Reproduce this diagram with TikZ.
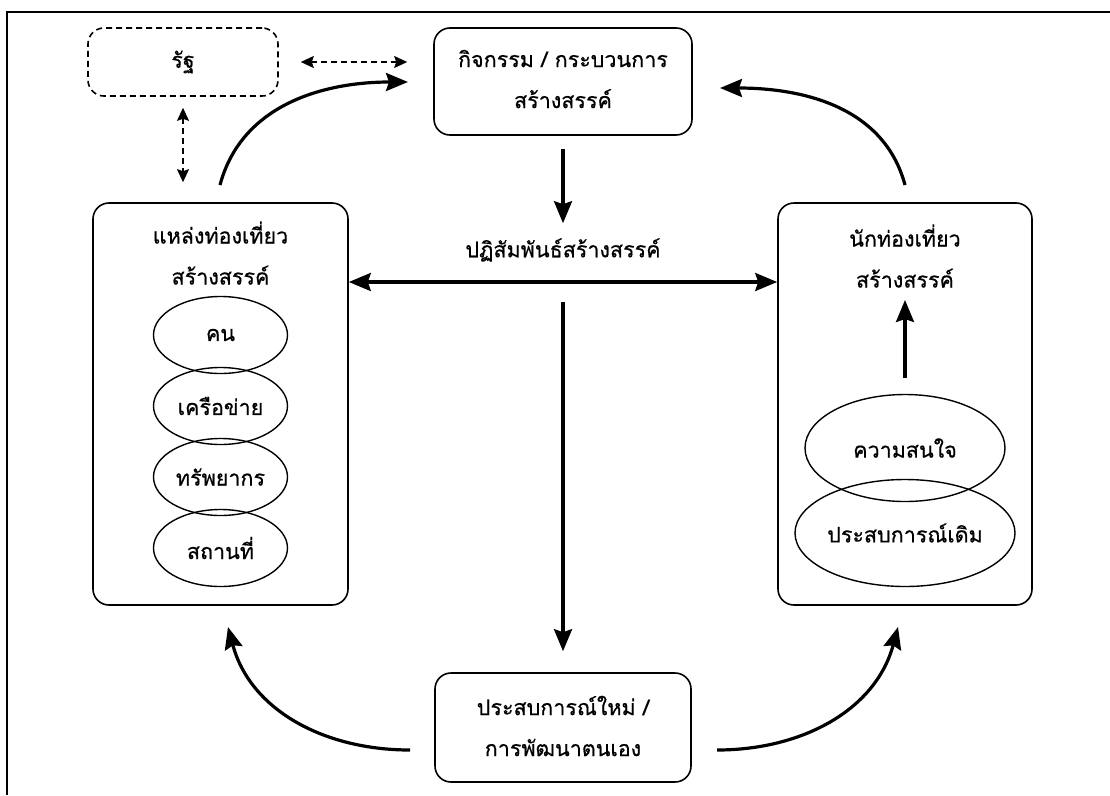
\documentclass[tikz,border=0pt]{standalone}
\usepackage{fontspec}
\setmainfont[Script=Thai,FakeBold=0.6]{Loma}
\usetikzlibrary{arrows.meta,shapes.geometric}

\begin{document}
\begin{tikzpicture}[x=1pt,y=-1pt,
  font=\fontsize{21.5}{41}\selectfont,
  box/.style={draw,line width=1.6pt,rounded corners=16pt,inner sep=0pt},
  govbox/.style={box,dashed,dash pattern=on 6pt off 4pt},
  oval/.style={draw,ellipse,line width=1.4pt,inner sep=0pt},
  label/.style={align=center,inner sep=0pt},
  flow/.style={line width=3.2pt,-{Stealth[length=22pt,width=18pt,inset=3pt]}},
  twoway/.style={line width=3.2pt,{Stealth[length=22pt,width=18pt,inset=3pt]}-{Stealth[length=22pt,width=18pt,inset=3pt]}},
  link/.style={line width=1.6pt,dash pattern=on 6pt off 4pt,
    {Stealth[length=13pt,width=12pt,inset=2pt]}-{Stealth[length=13pt,width=12pt,inset=2pt]}}]

\useasboundingbox (0,0) rectangle (1110,795);
% open frame: top and left edges only
\draw[line width=2.5pt] (7,795) -- (7,12) -- (1110,12);

% main boxes
\node[box,minimum width=258pt,minimum height=107pt] (act) at (563,81.5) {};
\node[label] (acttxt) at (563,79) {กิจกรรม / กระบวนการ\\สร้างสรรค์};
\node[govbox,minimum width=190pt,minimum height=68pt] (gov) at (183,62) {รัฐ};
\node[box,minimum width=255pt,minimum height=402pt] (place) at (220.5,404) {};
\node[label] (placetxt) at (220.5,253) {แหล่งท่องเที่ยว\\สร้างสรรค์};
\node[box,minimum width=254pt,minimum height=402pt] (tour) at (905,404) {};
\node[label] (tourtxt) at (905,256) {นักท่องเที่ยว\\สร้างสรรค์};
\node[box,minimum width=256pt,minimum height=109pt] (new) at (563,727.5) {};
\node[label] (newtxt) at (563,726) {ประสบการณ์ใหม่ /\\การพัฒนาตนเอง};
\node[label] (inter) at (563,250) {ปฏิสัมพันธ์สร้างสรรค์};

% components of the destination
\node[oval,minimum width=134pt,minimum height=77pt] (o1) at (220.5,335) {คน};
\node[oval,minimum width=134pt,minimum height=77pt] (o2) at (220.5,406) {เครือข่าย};
\node[oval,minimum width=134pt,minimum height=77pt] (o3) at (220.5,477) {ทรัพยากร};
\node[oval,minimum width=134pt,minimum height=77pt] (o4) at (220.5,548) {สถานที่};

% tourist background
\node[oval,minimum width=200pt,minimum height=107pt] (t1) at (905,448) {ความสนใจ};
\node[oval,minimum width=200pt,minimum height=107pt] (t2) at (905,533) {ประสบการณ์เดิม};

% hub of the interaction arrows
\coordinate (hub) at (563,282);

% straight connectors
\draw[flow,shorten <=13pt,shorten >=15pt] (act.south) -- (inter.north);
\draw[twoway] (hub -| place.east) -- (hub -| tour.west);
\draw[flow,shorten <=20pt,shorten >=21pt] (hub) -- (new.north);
\draw[flow] (t1.north |- 0,378) coordinate (tup) -- (tourtxt.south |- 0,300) coordinate (ttop);

% dashed links with the state
\draw[link,shorten <=22pt,shorten >=26pt] (gov.east) -- (gov.east -| act.west);
\draw[link,shorten <=11pt,shorten >=20pt] (gov.south) -- (gov.south |- place.north);

% curved cycle arrows
\coordinate (c1) at (220,185);
\coordinate (c2) at (408,82);
\coordinate (c3) at (905,185);
\coordinate (c4) at (720,88);
\coordinate (c5) at (410,750);
\coordinate (c6) at (228,627);
\coordinate (c7) at (717,750);
\coordinate (c8) at (898,627);
\draw[flow] (c1) to[out=75,in=180] (c2);
\draw[flow] (c3) to[out=105,in=0] (c4);
\draw[flow] (c5) to[out=180,in=-75] (c6);
\draw[flow] (c7) to[out=0,in=-105] (c8);
\end{tikzpicture}
\end{document}
